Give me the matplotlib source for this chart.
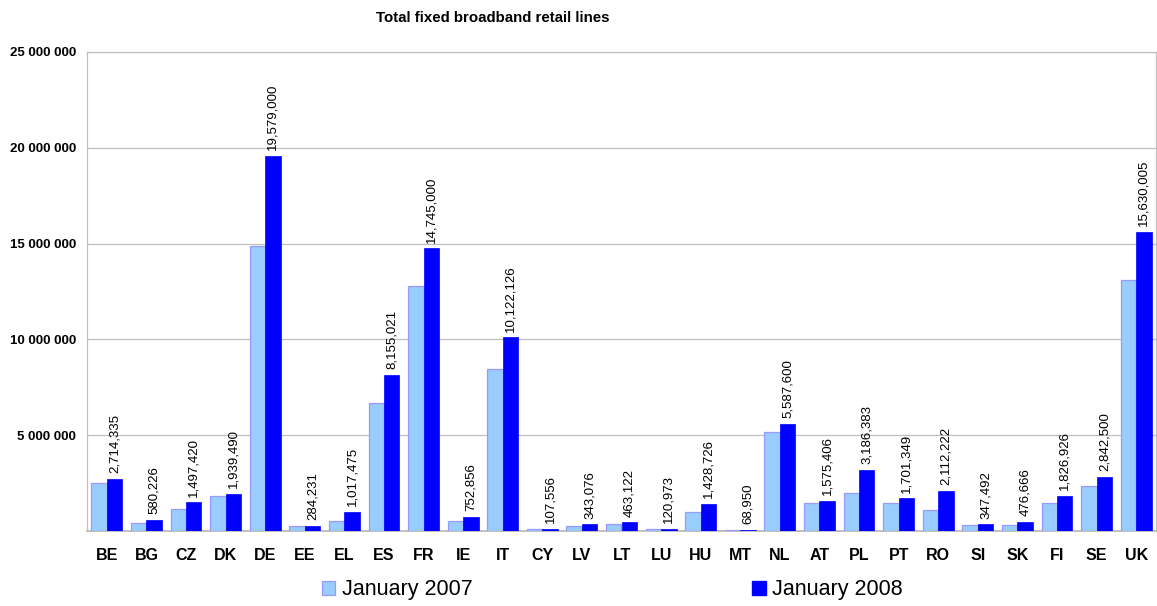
import matplotlib
matplotlib.use("Agg")
import matplotlib.pyplot as plt
import numpy as np
from matplotlib.patches import Patch
from matplotlib.ticker import FuncFormatter

plt.rcParams['font.family'] = ['Liberation Sans', 'DejaVu Sans']

countries = ["BE", "BG", "CZ", "DK", "DE", "EE", "EL", "ES", "FR", "IE", "IT",
             "CY", "LV", "LT", "LU", "HU", "MT", "NL", "AT", "PL", "PT", "RO",
             "SI", "SK", "FI", "SE", "UK"]

lines_jan_2007 = [2490000, 420000, 1150000, 1810000, 14880000, 240000, 520000,
                  6660000, 12800000, 540000, 8470000, 80000, 260000, 380000,
                  110000, 1000000, 60000, 5170000, 1440000, 2000000, 1470000,
                  1090000, 300000, 300000, 1440000, 2340000, 13100000]

lines_jan_2008 = [2714335, 580226, 1497420, 1939490, 19579000, 284231, 1017475,
                  8155021, 14745000, 752856, 10122126, 107556, 343076, 463122,
                  120973, 1428726, 68950, 5587600, 1575406, 3186383, 1701349,
                  2112222, 347492, 476666, 1826926, 2842500, 15630005]

series_names = ["January 2007", "January 2008"]
y_ticks = [5000000, 10000000, 15000000, 20000000, 25000000]

W, H = 1157, 606
fig = plt.figure(figsize=(W / 100, H / 100), dpi=100)
ax = fig.add_axes([87 / W, 1 - 531 / H, (1156 - 87) / W, (531 - 52) / H])

x = np.arange(len(countries))
bw = 0.39
light, dark = "#99CCFF", "#0000FF"
ax.bar(x - bw / 2, lines_jan_2007, bw, color=light, edgecolor="#9999FF",
       linewidth=0.9, zorder=3)
ax.bar(x + bw / 2, lines_jan_2008, bw, color=dark, edgecolor=dark,
       linewidth=0.5, zorder=3)

for xi, v in zip(x, lines_jan_2008):
    ax.annotate(f"{v:,}", (xi + bw / 2, v), xytext=(0, 4),
                textcoords="offset points", rotation=90, ha="center",
                va="bottom", fontsize=9.5, color="black")

ax.set_xlim(-0.5, len(countries) - 0.5)
ax.set_ylim(0, 25000000)
ax.set_yticks(y_ticks)
ax.yaxis.set_major_formatter(FuncFormatter(lambda v, p: f"{v:,.0f}".replace(",", " ")))
ax.set_xticks(x)
ax.set_xticklabels(countries)
ax.tick_params(axis="y", length=0, pad=8, labelsize=9.5)
ax.tick_params(axis="x", length=0, pad=12, labelsize=11.5)
for lab in ax.get_yticklabels() + ax.get_xticklabels():
    lab.set_fontweight("bold")

ax.grid(axis="y", color="#C0C0C0", linewidth=0.9, zorder=0)
for s in ax.spines.values():
    s.set_color("#C0C0C0")
    s.set_linewidth(0.9)
ax.spines["bottom"].set_linewidth(1.4)

fig.text(493 / W, 1 - 18 / H, "Total fixed broadband retail lines",
         ha="center", va="center", fontsize=10.8, fontweight="bold")

handles = [Patch(facecolor=light, edgecolor="#9999FF", linewidth=0.9),
           Patch(facecolor=dark, edgecolor=dark)]
fig.legend(handles, series_names, loc="center left",
           bbox_to_anchor=(322 / W, 1 - 590 / H), ncol=2, frameon=False,
           fontsize=15.5, handlelength=0.62, handleheight=0.62,
           handletextpad=0.3, columnspacing=13.0, borderpad=0,
           borderaxespad=0)

fig.savefig("out.png", dpi=100)
